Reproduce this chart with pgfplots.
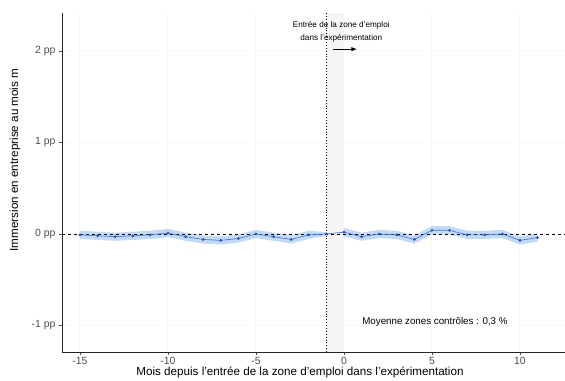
\documentclass[border=0pt]{standalone}
\usepackage{pgfplots}
\pgfplotsset{compat=1.18}
\usepgfplotslibrary{fillbetween}
\usepackage{fontspec}
\setmainfont{Liberation Sans}
\definecolor{bandblue}{HTML}{B4D1F4}
\definecolor{lineblue}{HTML}{4A78D8}
\definecolor{ptblue}{HTML}{2E4FAF}
\definecolor{ticklab}{HTML}{4D4D4D}
\pgfplotstableread{
x y lo hi
-15 -0.01 -0.055 0.035
-14 -0.02 -0.065 0.025
-13 -0.03 -0.075 0.015
-12 -0.02 -0.065 0.025
-11 -0.01 -0.055 0.035
-10 0.01 -0.035 0.055
-9 -0.03 -0.075 0.015
-8 -0.06 -0.105 -0.015
-7 -0.07 -0.115 -0.025
-6 -0.05 -0.095 -0.005
-5 0.00 -0.045 0.045
-4 -0.03 -0.075 0.015
-3 -0.06 -0.105 -0.015
-2 -0.01 -0.055 0.035
-1 0.00 -0.02 0.02
0 0.02 -0.025 0.065
1 -0.03 -0.075 0.015
2 0.00 -0.045 0.045
3 -0.01 -0.055 0.035
4 -0.06 -0.105 -0.015
5 0.04 -0.005 0.085
6 0.04 -0.005 0.085
7 -0.01 -0.055 0.035
8 -0.01 -0.055 0.035
9 0.00 -0.045 0.045
10 -0.07 -0.115 -0.025
11 -0.04 -0.085 0.005
}\data
\begin{document}
\begin{tikzpicture}
\begin{axis}[
  scale only axis,
  width=503bp, height=339bp,
  at={(0,0)}, anchor=south west,
  xmin=-16.02, xmax=12.56,
  ymin=-1.29, ymax=2.415,
  axis x line*=bottom, axis y line*=left,
  axis line style={black!85, line width=0.6pt, -},
  xtick={-15,-10,-5,0,5,10},
  xticklabels={-15,-10,-5,0,5,10},
  ytick={-1,0,1,2},
  yticklabels={-1 pp,0 pp,1 pp,2 pp},
  tick align=outside,
  major tick length=3bp,
  tick style={ticklab, line width=0.5pt},
  ticklabel style={font=\fontsize{10.5}{12}\selectfont, text=ticklab},
  xticklabel style={yshift=1bp},
  /pgf/number format/assume math mode=true,
  xmajorgrids, ymajorgrids,
  grid style={gray!5, line width=1pt},
  clip=false,
]
\fill[gray!8] (axis cs:-1,-1.29) rectangle (axis cs:0,2.415);
\addplot[name path=hi, draw=none, forget plot] table[x=x, y=hi] {\data};
\addplot[name path=lo, draw=none, forget plot] table[x=x, y=lo] {\data};
\addplot[bandblue, fill opacity=0.8, forget plot] fill between[of=hi and lo];
\draw[black, dashed, line width=0.6pt] (axis cs:-16.02,0) -- (axis cs:12.56,0);
\draw[black, dotted, line width=0.9pt] (axis cs:-1,-1.29) -- (axis cs:-1,2.415);
\addplot[lineblue, line width=0.7pt, mark=*, mark size=1pt, mark options={ptblue, fill=ptblue}] table[x=x, y=y] {\data};
\node[align=center, font=\fontsize{8.2}{13}\selectfont] at (axis cs:-0.15,2.21) {Entrée de la zone d'emploi\\dans l'expérimentation};
\draw[-latex, black, line width=0.9pt] (axis cs:-0.62,2.02) -- (axis cs:0.74,2.02);
\node[font=\fontsize{9.8}{11}\selectfont] at (axis cs:5.17,-0.96) {Moyenne zones contrôles : 0,3 \%};
\end{axis}
\node[font=\fontsize{11.7}{13}\selectfont, text=black] at (238bp,-20bp) {Mois depuis l'entrée de la zone d'emploi dans l'expérimentation};
\node[font=\fontsize{11.7}{13}\selectfont, rotate=90] at (-47bp,192bp) {Immersion en entreprise au mois m};
\pgfresetboundingbox
\path[use as bounding box] (-62bp,-29bp) rectangle (503bp,352bp);
\end{tikzpicture}
\end{document}
